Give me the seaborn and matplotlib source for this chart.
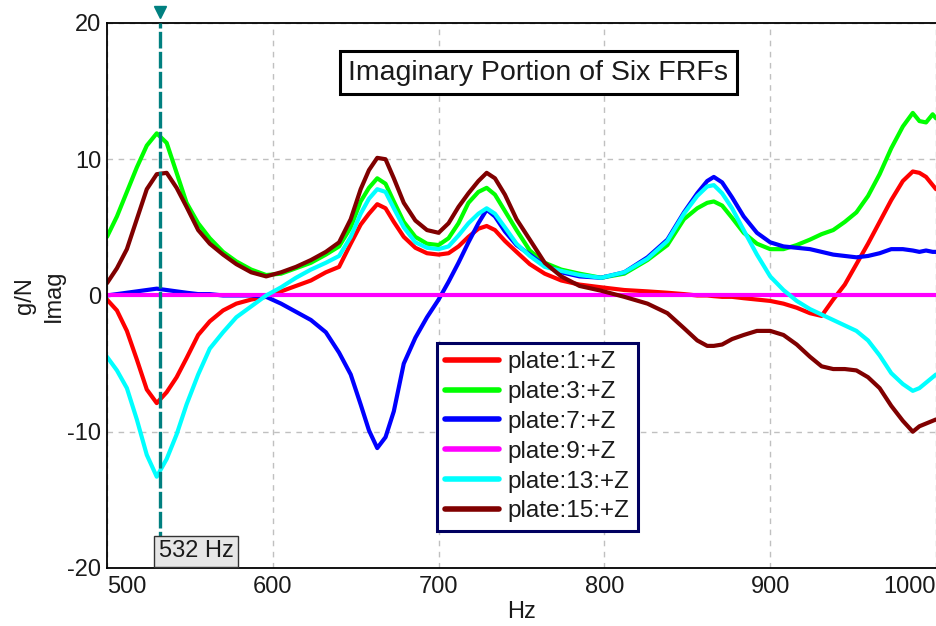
import matplotlib
matplotlib.use("Agg")
import matplotlib.pyplot as plt
import matplotlib.transforms as mtransforms
from matplotlib.lines import Line2D
import pandas as pd
import seaborn as sns

# frequency axis (Hz), shared by all six FRFs
freq = [500, 506, 512, 518, 524, 530, 536, 542, 548, 555,
        562, 570, 578, 587, 596, 605, 614, 623, 632, 640,
        647, 653, 658, 663, 668, 673, 679, 686, 693, 700,
        706, 712, 718, 724, 729, 734, 740, 747, 755, 764,
        774, 785, 798, 812, 826, 838, 848, 856, 862, 866,
        871, 877, 884, 892, 900, 908, 916, 924, 931, 938,
        945, 952, 959, 966, 973, 980, 986, 990, 994, 998,
        1000]

# imaginary part (g/N)
plate_1 = [-0.3, -1.1, -2.6, -4.7, -6.9, -7.9, -7.1, -6.0, -4.6, -2.9,
           -1.9, -1.1, -0.6, -0.3, -0.1, 0.3, 0.7, 1.1, 1.7, 2.1,
           3.8, 5.2, 6.0, 6.7, 6.4, 5.4, 4.3, 3.5, 3.1, 3.0,
           3.1, 3.6, 4.3, 4.9, 5.1, 4.8, 4.0, 3.2, 2.3, 1.6,
           1.1, 0.8, 0.6, 0.4, 0.3, 0.2, 0.1, 0.0, 0.0, -0.05,
           -0.1, -0.1, -0.2, -0.3, -0.4, -0.6, -0.9, -1.3, -1.5, -0.3,
           0.8, 2.3, 3.8, 5.4, 7.0, 8.4, 9.1, 9.0, 8.7, 8.1,
           7.8]
plate_3 = [4.3, 5.8, 7.6, 9.4, 11.0, 11.9, 11.2, 9.0, 6.8, 5.3,
           4.2, 3.2, 2.5, 1.9, 1.5, 1.6, 2.0, 2.4, 3.0, 3.6,
           5.0, 6.9, 7.9, 8.6, 8.2, 6.9, 5.4, 4.3, 3.8, 3.7,
           4.2, 5.3, 6.8, 7.6, 7.9, 7.4, 6.2, 4.8, 3.3, 2.4,
           1.9, 1.6, 1.3, 1.6, 2.6, 3.7, 5.6, 6.4, 6.8, 6.9,
           6.6, 5.7, 4.6, 3.8, 3.4, 3.4, 3.7, 4.1, 4.5, 4.8,
           5.4, 6.1, 7.3, 8.9, 10.8, 12.4, 13.4, 12.8, 12.7, 13.3,
           13.0]
plate_7 = [0.0, 0.1, 0.2, 0.3, 0.4, 0.5, 0.4, 0.3, 0.2, 0.1,
           0.1, 0.0, 0.0, 0.0, -0.1, -0.6, -1.2, -1.8, -2.7, -4.2,
           -5.8, -8.0, -9.9, -11.2, -10.4, -8.5, -5.0, -3.1, -1.6, -0.3,
           1.0, 2.4, 3.9, 5.3, 6.3, 5.8, 4.7, 3.7, 3.0, 2.2,
           1.7, 1.4, 1.3, 1.7, 2.8, 4.1, 6.1, 7.5, 8.4, 8.7,
           8.3, 7.2, 5.8, 4.6, 3.9, 3.6, 3.5, 3.4, 3.2, 3.0,
           2.9, 2.8, 2.9, 3.1, 3.4, 3.4, 3.3, 3.2, 3.3, 3.2,
           3.2]
plate_9 = [0.05, 0.05, 0.05, 0.05, 0.05, 0.05, 0.05, 0.05, 0.05, 0.05,
           0.05, 0.05, 0.05, 0.05, 0.05, 0.05, 0.05, 0.05, 0.05, 0.05,
           0.05, 0.05, 0.05, 0.05, 0.05, 0.05, 0.05, 0.05, 0.05, 0.05,
           0.05, 0.05, 0.05, 0.05, 0.05, 0.05, 0.05, 0.05, 0.05, 0.05,
           0.05, 0.05, 0.05, 0.05, 0.05, 0.05, 0.05, 0.05, 0.05, 0.05,
           0.05, 0.05, 0.05, 0.05, 0.05, 0.05, 0.05, 0.05, 0.05, 0.05,
           0.05, 0.05, 0.05, 0.05, 0.05, 0.05, 0.05, 0.05, 0.05, 0.05,
           0.05]
plate_13 = [-4.5, -5.5, -6.8, -9.1, -11.7, -13.3, -12.0, -10.2, -8.0, -5.8,
            -3.9, -2.7, -1.6, -0.8, 0.0, 0.6, 1.3, 1.9, 2.4, 2.9,
            4.3, 6.0, 7.1, 7.8, 7.6, 6.4, 5.0, 3.9, 3.5, 3.4,
            3.6, 4.4, 5.3, 6.0, 6.4, 6.0, 5.0, 3.8, 2.9, 2.1,
            1.8, 1.5, 1.3, 1.7, 2.7, 4.0, 6.0, 7.3, 8.0, 8.1,
            7.5, 6.4, 4.8, 3.0, 1.4, 0.4, -0.4, -1.0, -1.4, -1.8,
            -2.2, -2.6, -3.3, -4.4, -5.7, -6.5, -7.0, -6.8, -6.4, -6.0,
            -5.8]
plate_15 = [0.9, 2.0, 3.4, 5.6, 7.8, 8.9, 9.0, 7.9, 6.5, 4.8,
            3.8, 3.0, 2.3, 1.7, 1.4, 1.7, 2.1, 2.6, 3.2, 3.9,
            5.6, 7.8, 9.2, 10.1, 10.0, 8.6, 6.8, 5.5, 4.8, 4.6,
            5.3, 6.5, 7.5, 8.4, 9.0, 8.6, 7.4, 5.6, 4.1, 2.4,
            1.4, 0.7, 0.35, -0.1, -0.6, -1.3, -2.4, -3.3, -3.7, -3.7,
            -3.6, -3.2, -2.9, -2.6, -2.6, -2.9, -3.6, -4.5, -5.2, -5.4,
            -5.4, -5.5, -6.0, -6.8, -8.1, -9.2, -10.0, -9.6, -9.4, -9.2,
            -9.1]

labels = ["plate:1:+Z", "plate:3:+Z", "plate:7:+Z",
          "plate:9:+Z", "plate:13:+Z", "plate:15:+Z"]
colors = ["#ff0000", "#00ff00", "#0000ff", "#ff00ff", "#00ffff", "#800000"]
series = [plate_1, plate_3, plate_7, plate_9, plate_13, plate_15]
cursor_hz = 532

# long dataframe for seaborn
frames = []
for name, vals in zip(labels, series):
    frames.append(pd.DataFrame({"Hz": freq, "Imag": vals, "FRF": name}))
df = pd.concat(frames, ignore_index=True)

sns.set_style("white")
plt.rcParams["font.family"] = ["Liberation Sans", "DejaVu Sans"]
plt.rcParams["axes.unicode_minus"] = False

fig = plt.figure(figsize=(9.36, 6.26), dpi=100)
ax = fig.add_axes([0.1143, 0.0927, 0.8857, 0.8706])

sns.lineplot(data=df, x="Hz", y="Imag", hue="FRF", hue_order=labels,
             palette=dict(zip(labels, colors)), linewidth=3.0,
             estimator=None, sort=False, legend=False, ax=ax)

ax.set_xlim(500, 1000)
ax.set_ylim(-20, 20)
ax.set_xticks([500, 600, 700, 800, 900, 1000])
ax.set_yticks([-20, -10, 0, 10, 20])
ax.tick_params(axis="both", direction="in", length=20, width=1.3,
               color="black", labelsize=17, labelcolor="#1a1a1a")
ax.tick_params(axis="x", pad=6)
ax.tick_params(axis="y", pad=4)
ax.grid(True, color="#c0c0c0", linestyle=(0, (4, 4)), linewidth=1.0)
ax.set_axisbelow(True)
for side in ["left", "bottom", "top"]:
    ax.spines[side].set_color("black")
    ax.spines[side].set_linewidth(1.3)
ax.spines["right"].set_visible(False)

xl = ax.get_xticklabels()
xl[0].set_ha("left")
xl[-1].set_ha("right")

ax.set_xlabel("Hz", fontsize=17, labelpad=2, color="#1a1a1a")
ax.set_ylabel("g/N\nImag", fontsize=17, labelpad=2, color="#1a1a1a",
              linespacing=1.4)

# frequency cursor
ax.axvline(cursor_hz, color="#008080", linewidth=2.4, linestyle=(0, (5, 1)),
           zorder=5)
trans = mtransforms.blended_transform_factory(ax.transData, ax.transAxes)
ax.plot([cursor_hz], [1.02], marker="v", markersize=9, color="#008080",
        transform=trans, clip_on=False, zorder=6)
ax.annotate(f"{cursor_hz} Hz", xy=(cursor_hz, 0), xycoords=trans,
            xytext=(-1, 4), textcoords="offset points",
            ha="left", va="bottom", fontsize=17, color="#1a1a1a",
            bbox=dict(boxstyle="square,pad=0.2", facecolor="#e6e6e6",
                      edgecolor="#333333", linewidth=1.0), zorder=7)

# title box
ax.text(0.52, 0.909, "Imaginary Portion of Six FRFs", transform=ax.transAxes,
        ha="center", va="center", fontsize=20.5, color="#1a1a1a",
        bbox=dict(boxstyle="square,pad=0.3", facecolor="white",
                  edgecolor="black", linewidth=2.2), zorder=8)

handles = [Line2D([0], [0], color=c, linewidth=4) for c in colors]
leg = ax.legend(handles, labels, loc="upper left",
                bbox_to_anchor=(0.398, 0.413), borderaxespad=0,
                fontsize=17.5, frameon=True, fancybox=False,
                handlelength=2.2, handletextpad=0.35, labelspacing=0.32,
                borderpad=0.35, edgecolor="#000060", framealpha=1)
leg.get_frame().set_linewidth(2.2)
leg.set_zorder(9)
for t in leg.get_texts():
    t.set_color("#1a1a1a")

fig.savefig("out.png", dpi=100)
